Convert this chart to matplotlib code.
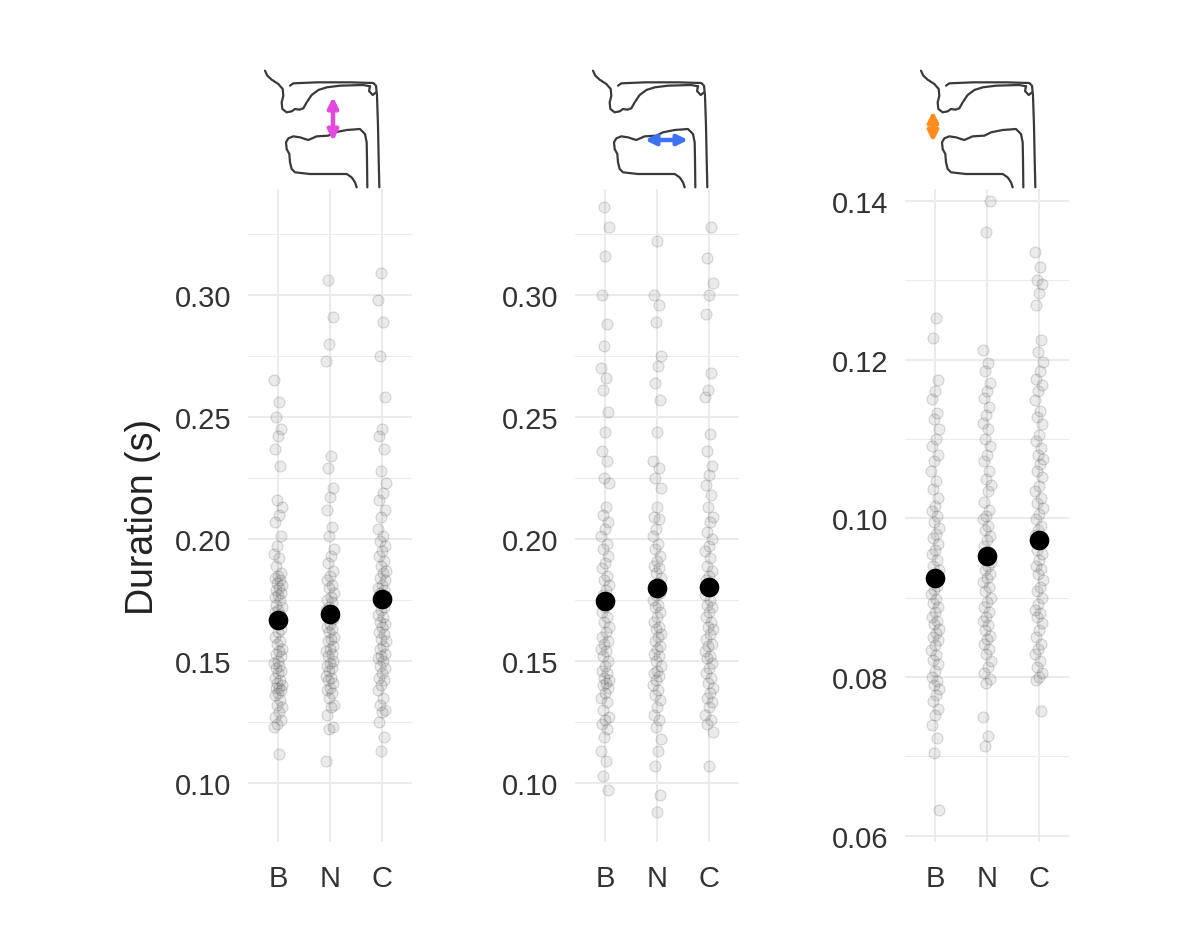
import matplotlib
matplotlib.use("Agg")
import matplotlib.pyplot as plt
import numpy as np

plt.rcParams['font.family'] = ['Liberation Sans', 'DejaVu Sans']

groups = ['B', 'N', 'C']

# panel 1 : tongue body height (magenta)
p1_B = [0.265, 0.256, 0.250, 0.245, 0.242, 0.237, 0.230, 0.216, 0.213, 0.210, 0.207, 0.201,
        0.197, 0.194, 0.192, 0.189, 0.186, 0.185, 0.184, 0.183, 0.182, 0.181, 0.180, 0.179,
        0.178, 0.177, 0.176, 0.175, 0.173, 0.172, 0.171, 0.170, 0.169, 0.168, 0.167, 0.166,
        0.165, 0.163, 0.162, 0.160, 0.158, 0.157, 0.155, 0.154, 0.153, 0.152, 0.150, 0.149,
        0.148, 0.147, 0.146, 0.145, 0.143, 0.142, 0.141, 0.140, 0.139, 0.139, 0.138, 0.137,
        0.136, 0.134, 0.132, 0.131, 0.129, 0.127, 0.126, 0.124, 0.123, 0.112]
p1_N = [0.306, 0.291, 0.280, 0.273, 0.234, 0.229, 0.221, 0.217, 0.212, 0.205, 0.201,
        0.196, 0.193, 0.190, 0.187, 0.185, 0.183, 0.181, 0.180, 0.178, 0.176, 0.175,
        0.174, 0.172, 0.171, 0.170, 0.168, 0.167, 0.165, 0.164, 0.163, 0.162, 0.160,
        0.159, 0.158, 0.156, 0.155, 0.154, 0.153, 0.152, 0.150, 0.149, 0.148, 0.147,
        0.146, 0.144, 0.143, 0.142, 0.141, 0.139, 0.138, 0.137, 0.135, 0.132, 0.131,
        0.128, 0.123, 0.122, 0.109]
p1_C = [0.309, 0.298, 0.289, 0.275, 0.258, 0.245, 0.242, 0.237, 0.228, 0.223, 0.219,
        0.216, 0.212, 0.209, 0.204, 0.201, 0.199, 0.197, 0.195, 0.193, 0.191, 0.189,
        0.187, 0.186, 0.184, 0.183, 0.181, 0.180, 0.179, 0.178, 0.176, 0.175, 0.174,
        0.172, 0.171, 0.169, 0.168, 0.166, 0.165, 0.164, 0.162, 0.161, 0.159, 0.158,
        0.156, 0.155, 0.153, 0.152, 0.151, 0.150, 0.148, 0.147, 0.145, 0.143, 0.142,
        0.140, 0.138, 0.135, 0.132, 0.130, 0.129, 0.125, 0.119, 0.113]

# panel 2 : tongue front-back (blue)
p2_B = [0.336, 0.328, 0.316, 0.300, 0.288, 0.279, 0.270, 0.266, 0.261, 0.252, 0.244,
        0.236, 0.232, 0.225, 0.223, 0.213, 0.210, 0.207, 0.204, 0.201, 0.198, 0.196,
        0.193, 0.190, 0.188, 0.185, 0.183, 0.181, 0.179, 0.177, 0.175, 0.172, 0.170,
        0.168, 0.166, 0.164, 0.162, 0.160, 0.158, 0.157, 0.155, 0.154, 0.152, 0.150,
        0.148, 0.146, 0.145, 0.143, 0.142, 0.141, 0.140, 0.139, 0.137, 0.135, 0.133,
        0.130, 0.127, 0.126, 0.124, 0.122, 0.119, 0.113, 0.109, 0.103, 0.097]
p2_N = [0.322, 0.300, 0.296, 0.289, 0.275, 0.271, 0.264, 0.257, 0.244, 0.232, 0.229,
        0.225, 0.221, 0.213, 0.209, 0.208, 0.204, 0.201, 0.198, 0.196, 0.193, 0.191,
        0.189, 0.188, 0.186, 0.184, 0.182, 0.180, 0.178, 0.177, 0.175, 0.173, 0.172,
        0.170, 0.168, 0.166, 0.164, 0.163, 0.161, 0.160, 0.158, 0.156, 0.155, 0.153,
        0.152, 0.150, 0.148, 0.146, 0.145, 0.144, 0.142, 0.140, 0.138, 0.136, 0.134,
        0.131, 0.128, 0.126, 0.123, 0.118, 0.113, 0.107, 0.095, 0.088]
p2_C = [0.328, 0.315, 0.305, 0.300, 0.292, 0.268, 0.261, 0.258, 0.243, 0.236, 0.230,
        0.226, 0.222, 0.218, 0.213, 0.209, 0.207, 0.203, 0.200, 0.197, 0.195, 0.192,
        0.189, 0.187, 0.185, 0.183, 0.181, 0.179, 0.177, 0.175, 0.173, 0.172, 0.170,
        0.168, 0.166, 0.164, 0.163, 0.161, 0.159, 0.157, 0.156, 0.154, 0.152, 0.151,
        0.149, 0.147, 0.145, 0.143, 0.141, 0.139, 0.137, 0.135, 0.133, 0.131, 0.128,
        0.126, 0.124, 0.121, 0.107]

# panel 3 : lip aperture (orange)
p3_B = [0.1253, 0.1227, 0.1174, 0.1161, 0.1150, 0.1133, 0.1125, 0.1113, 0.1100, 0.1091,
        0.1080, 0.1072, 0.1060, 0.1047, 0.1037, 0.1025, 0.1015, 0.1009, 0.1003, 0.0995,
        0.0988, 0.0980, 0.0975, 0.0968, 0.0960, 0.0955, 0.0948, 0.0940, 0.0935, 0.0928,
        0.0922, 0.0915, 0.0910, 0.0905, 0.0898, 0.0893, 0.0888, 0.0882, 0.0876, 0.0871,
        0.0867, 0.0860, 0.0855, 0.0850, 0.0846, 0.0840, 0.0834, 0.0828, 0.0822, 0.0816,
        0.0808, 0.0800, 0.0795, 0.0790, 0.0785, 0.0777, 0.0770, 0.0760, 0.0752, 0.0740,
        0.0723, 0.0704, 0.0632]
p3_N = [0.1400, 0.1361, 0.1212, 0.1196, 0.1185, 0.1171, 0.1160, 0.1151, 0.1140, 0.1130,
        0.1120, 0.1113, 0.1100, 0.1091, 0.1080, 0.1072, 0.1060, 0.1050, 0.1042, 0.1034,
        0.1020, 0.1010, 0.1003, 0.0999, 0.0990, 0.0985, 0.0978, 0.0973, 0.0965, 0.0958,
        0.0952, 0.0945, 0.0940, 0.0935, 0.0930, 0.0925, 0.0920, 0.0914, 0.0908, 0.0900,
        0.0895, 0.0888, 0.0882, 0.0876, 0.0870, 0.0865, 0.0859, 0.0852, 0.0848, 0.0841,
        0.0835, 0.0829, 0.0820, 0.0812, 0.0805, 0.0797, 0.0793, 0.0749, 0.0726, 0.0713]
p3_C = [0.1335, 0.1317, 0.1300, 0.1295, 0.1284, 0.1269, 0.1225, 0.1210, 0.1197, 0.1185,
        0.1175, 0.1168, 0.1160, 0.1149, 0.1135, 0.1128, 0.1119, 0.1105, 0.1098, 0.1089,
        0.1080, 0.1075, 0.1069, 0.1060, 0.1052, 0.1041, 0.1035, 0.1025, 0.1019, 0.1013,
        0.1005, 0.0999, 0.0990, 0.0985, 0.0979, 0.0968, 0.0960, 0.0955, 0.0948, 0.0940,
        0.0936, 0.0930, 0.0922, 0.0914, 0.0908, 0.0900, 0.0892, 0.0885, 0.0880, 0.0876,
        0.0868, 0.0859, 0.0850, 0.0841, 0.0835, 0.0829, 0.0820, 0.0812, 0.0805, 0.0800,
        0.0796, 0.0757]

# group means (big black dots)
means_p1 = [0.1668, 0.1693, 0.1754]
means_p2 = [0.1746, 0.1799, 0.1803]
means_p3 = [0.0925, 0.0952, 0.0973]

panels = [
    dict(data=[p1_B, p1_N, p1_C], means=means_p1, ylim=(0.0758, 0.3434),
         major=[0.10, 0.15, 0.20, 0.25, 0.30], minor=[0.125, 0.175, 0.225, 0.275, 0.325],
         fmt='{:.2f}', left=248),
    dict(data=[p2_B, p2_N, p2_C], means=means_p2, ylim=(0.0758, 0.3434),
         major=[0.10, 0.15, 0.20, 0.25, 0.30], minor=[0.125, 0.175, 0.225, 0.275, 0.325],
         fmt='{:.2f}', left=575),
    dict(data=[p3_B, p3_N, p3_C], means=means_p3, ylim=(0.0592, 0.1415),
         major=[0.06, 0.08, 0.10, 0.12, 0.14], minor=[0.07, 0.09, 0.11, 0.13],
         fmt='{:.2f}', left=905),
]

W, H = 1200, 945
fig = plt.figure(figsize=(W / 100, H / 100), dpi=100)
fig.patch.set_facecolor('white')

grid_col = '#EBEBEB'
for k, p in enumerate(panels):
    ax = fig.add_axes([p['left'] / W, (H - 843) / H, 164 / W, (843 - 190) / H])
    ax.set_facecolor('none')
    for s in ax.spines.values():
        s.set_visible(False)
    for y in p['major']:
        ax.axhline(y, color=grid_col, lw=1.5, zorder=0)
    for y in p['minor']:
        ax.axhline(y, color=grid_col, lw=0.8, zorder=0)
    for x in [1, 2, 3]:
        ax.axvline(x, color=grid_col, lw=1.5, zorder=0)
    for i, vals in enumerate(p['data']):
        n = len(vals)
        # deterministic jitter (golden ratio sequence)
        jit = ((np.arange(n) * 0.618034 + 0.31 * k + 0.2 * i) % 1.0 - 0.5) * 0.16
        ax.scatter(np.full(n, i + 1) + jit, vals, s=62, facecolor=(0.4, 0.4, 0.4, 0.13),
                   edgecolor=(0.35, 0.35, 0.35, 0.22), linewidth=0.8, zorder=2)
    ax.scatter([1, 2, 3], p['means'], s=200, color='black', zorder=3, linewidth=0)
    ax.set_xlim(0.42, 3.58)
    ax.set_ylim(*p['ylim'])
    ax.set_xticks([1, 2, 3])
    ax.set_xticklabels(groups)
    ax.set_yticks(p['major'])
    ax.set_yticklabels([p['fmt'].format(v) for v in p['major']])
    ax.tick_params(length=0, labelsize=21, colors='#333333', pad=12)
    ax.tick_params(axis='x', pad=16)
    if k == 0:
        ax.set_ylabel('Duration (s)', fontsize=27, color='#222222', labelpad=10)

# vocal tract sketches drawn on an overlay in pixel units
ov = fig.add_axes([0, 0, 1, 1])
ov.set_xlim(0, W)
ov.set_ylim(H, 0)
ov.axis('off')
ov.set_facecolor('none')

face = [(45, 35), (52, 50), (65, 62), (85, 75), (98, 90), (100, 110), (95, 130), (97, 150),
        (110, 160), (125, 157), (135, 150), (148, 152), (160, 148), (170, 130), (185, 108),
        (205, 93), (230, 85), (270, 80), (340, 78), (360, 82)]
roof = [(120, 80), (130, 73), (200, 70), (300, 70), (370, 72), (378, 80), (381, 110),
        (384, 200), (386, 300), (388, 385)]
velum = [(360, 82), (357, 96), (368, 108), (378, 100)]
tongue = [(352, 385), (351, 300), (350, 250), (345, 225), (330, 210), (290, 213), (255, 220),
          (235, 230), (200, 232), (175, 243), (165, 240), (150, 235), (130, 232), (115, 238),
          (108, 250), (110, 270), (118, 285), (120, 310), (125, 330), (135, 340), (180, 345),
          (250, 345), (290, 345), (305, 355), (315, 370), (320, 385)]

arrows = [
    dict(off=0, a=(333, 142), b=(333, 98), col='#E548DE'),
    dict(off=328, a=(645, 141), b=(688, 141), col='#3B72F6'),
    dict(off=656, a=(933, 143), b=(933, 112), col='#FF8C1A'),
]
for ar in arrows:
    for line in [face, roof, velum, tongue]:
        xs = [250 + ar['off'] + zx / 3 for zx, zy in line]
        ys = [60 + zy / 3 for zx, zy in line]
        ov.plot(xs, ys, color='#3a3a3a', lw=1.6, solid_capstyle='round')
    ov.annotate('', xy=ar['b'], xytext=ar['a'],
                arrowprops=dict(arrowstyle='<|-|>', color=ar['col'], lw=3.2,
                                mutation_scale=15, shrinkA=0, shrinkB=0))

fig.savefig('out.png', dpi=100)
